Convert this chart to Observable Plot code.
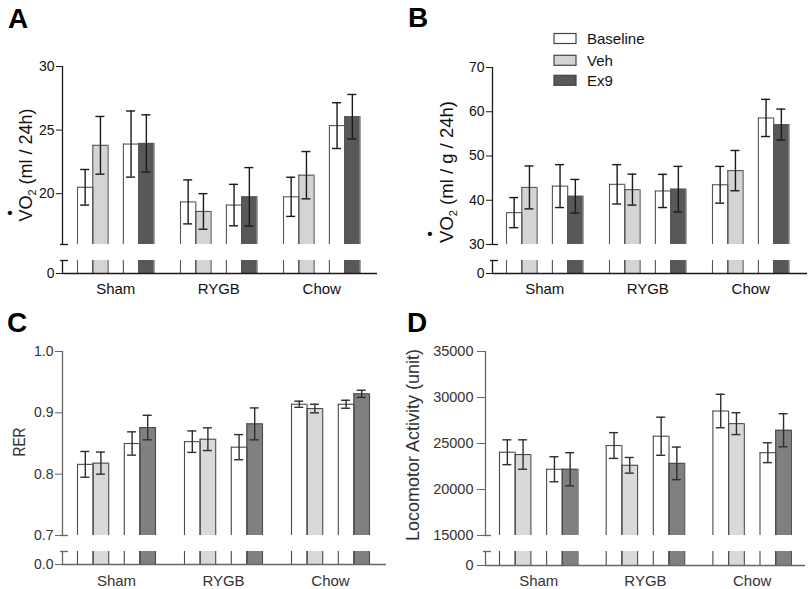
<!DOCTYPE html>
<html><head><meta charset="utf-8">
<script src="https://cdn.jsdelivr.net/npm/d3@7"></script>
<script src="https://cdn.jsdelivr.net/npm/@observablehq/plot@0.6"></script>
<style>
body{margin:0;background:#fff;}
#root{position:relative;width:810px;height:589px;overflow:hidden;background:#fff;}
#root svg{position:absolute;}
</style></head><body><div id="root"></div>
<script>
// ---- data ----
const groups = ["Sham", "RYGB", "Chow"];
const conditions = ["Baseline", "Veh", "Baseline", "Ex9"];
const legendLabels = ["Baseline", "Veh", "Ex9"];

// Panel A: VO2 (ml / 24h)
const vo2Mean = [20.5, 23.8, 23.9, 23.95, 19.35, 18.6, 19.1, 19.75, 19.75, 21.45, 25.35, 26.05];
const vo2Sem  = [1.4, 2.27, 2.6, 2.25, 1.73, 1.4, 1.63, 2.3, 1.54, 1.86, 1.8, 1.75];
const vo2Ticks = [0, 20, 25, 30];

// Panel B: VO2 (ml / g / 24h)
const vo2gMean = [37.2, 42.9, 43.2, 40.9, 43.6, 42.4, 42.1, 42.5, 43.5, 46.7, 58.6, 57.1];
const vo2gSem  = [3.4, 4.85, 4.85, 3.8, 4.45, 3.5, 3.75, 5.15, 4.15, 4.55, 4.2, 3.5];
const vo2gTicks = [0, 30, 40, 50, 60, 70];

// Panel C: RER
const rerMean = [0.816, 0.818, 0.850, 0.876, 0.853, 0.857, 0.844, 0.882, 0.914, 0.907, 0.914, 0.931];
const rerSem  = [0.021, 0.018, 0.019, 0.020, 0.0175, 0.0185, 0.0205, 0.026, 0.005, 0.007, 0.0065, 0.0058];
const rerTicks = [0, 0.7, 0.8, 0.9, 1.0];

// Panel D: Locomotor activity
const locoMean = [24050, 23800, 22200, 22200, 24780, 22630, 25790, 22840, 28530, 27160, 24000, 26440];
const locoSem  = [1350, 1600, 1360, 1800, 1400, 850, 2070, 1770, 1820, 1190, 1080, 1800];
const locoTicks = [0, 15000, 20000, 25000, 30000, 35000];

// ---- drawing ----
const FONT = "Arial, 'Liberation Sans', Helvetica, sans-serif";
const slotOf = [0, 1, 3, 4];
const themeAB = {axis: "#1a1a1a", err: "#1a1a1a", barStroke: "#555555", veh: "#d4d4d4", ex9: "#585858", text: "#111"};
const themeCD = {axis: "#666666", err: "#2e2e2e", barStroke: "#4a4a4a", veh: "#d9d9d9", ex9: "#808080", text: "#333"};
const root = document.getElementById("root");

function fillOf(cond, theme) {
  return cond === "Veh" ? theme.veh : cond === "Ex9" ? theme.ex9 : "#ffffff";
}

function panel(o) {
  const t = o.theme;
  const gs = o.gstep / o.barW;
  const xmin = (o.left - o.bar0) / o.barW;
  const xmax = (o.right - o.bar0) / o.barW;
  const data = o.means.map((m, i) => ({
    g: Math.floor(i / 4), k: i % 4, cond: conditions[i % 4], mean: m, sem: o.sems[i]
  }));
  const pos = d => d.g * gs + slotOf[d.k];
  const end = d => pos(d) + 1;
  const mid = d => pos(d) + 0.5;
  const centers = groups.map((_, g) => g * gs + 2.5);
  const cap = 4.5 / o.barW;
  const stubL = 2 / o.barW, stubR = 6 / o.barW;
  const fill = d => fillOf(d.cond, t);
  const style = {fontFamily: FONT, fontSize: o.tickFont + "px", color: t.axis, background: "transparent", overflow: "visible"};
  const yAxisOpt = {tickFormat: o.fmt, tickSize: o.tickSize, tickPadding: o.tickPad, label: null};
  const edge = {stroke: t.barStroke, strokeWidth: 1.1};

  // upper segment (brk .. top)
  const upperH = o.yBrk + 3;
  const upper = Plot.plot({
    width: o.width, height: upperH,
    marginLeft: o.left, marginRight: o.width - o.right,
    marginTop: o.yTop, marginBottom: upperH - o.yBrk,
    style, color: {type: "identity"},
    x: {domain: [xmin, xmax], axis: null},
    y: {domain: [o.brk, o.top], ticks: o.ticks.filter(v => v >= o.brk), ...yAxisOpt},
    marks: [
      Plot.rect(data, {x1: pos, x2: end, y1: () => o.brk, y2: d => d.mean, fill}),
      Plot.ruleX(data, {x: pos, y1: () => o.brk, y2: d => d.mean, ...edge}),
      Plot.ruleX(data, {x: end, y1: () => o.brk, y2: d => d.mean, ...edge}),
      Plot.ruleY(data, {y: d => d.mean, x1: pos, x2: end, ...edge}),
      Plot.ruleX(data, {x: mid, y1: d => d.mean - d.sem, y2: d => d.mean + d.sem, stroke: t.err, strokeWidth: 1.4}),
      Plot.ruleY(data, {y: d => d.mean + d.sem, x1: d => mid(d) - cap, x2: d => mid(d) + cap, stroke: t.err, strokeWidth: 1.4}),
      Plot.ruleY(data, {y: d => d.mean - d.sem, x1: d => mid(d) - cap, x2: d => mid(d) + cap, stroke: t.err, strokeWidth: 1.4}),
      Plot.ruleX([xmin], {y1: () => o.brk, y2: () => o.top, stroke: t.axis, strokeWidth: 1.3}),
      Plot.ruleY([o.brk], {x1: () => xmin - stubL, x2: () => xmin + stubR, stroke: t.axis, strokeWidth: 1.3})
    ]
  });

  // lower segment (0 .. lowTop) with the category axis
  const lowY = o.yLow - 3;
  const lowerH = o.height - lowY;
  const lower = Plot.plot({
    width: o.width, height: lowerH,
    marginLeft: o.left, marginRight: o.width - o.right,
    marginTop: 3, marginBottom: lowerH - (o.y0 - lowY),
    style, color: {type: "identity"},
    x: {domain: [xmin, xmax], ticks: centers, tickFormat: d => groups[centers.indexOf(d)],
        tickSize: 0, tickPadding: o.labelPad, label: null},
    y: {domain: [0, o.lowTop], ticks: [0], ...yAxisOpt},
    marks: [
      Plot.rect(data, {x1: pos, x2: end, y1: () => 0, y2: () => o.lowTop, fill}),
      Plot.ruleX(data, {x: pos, y1: () => 0, y2: () => o.lowTop, ...edge}),
      Plot.ruleX(data, {x: end, y1: () => 0, y2: () => o.lowTop, ...edge}),
      Plot.ruleX([xmin], {y1: () => 0, y2: () => o.lowTop, stroke: t.axis, strokeWidth: 1.3}),
      Plot.ruleY([o.lowTop], {x1: () => xmin - stubL, x2: () => xmin + stubR, stroke: t.axis, strokeWidth: 1.3}),
      Plot.ruleY([0], {stroke: t.axis, strokeWidth: 1.3})
    ]
  });

  upper.style.left = o.px + "px";
  upper.style.top = o.py + "px";
  lower.style.left = o.px + "px";
  lower.style.top = (o.py + lowY) + "px";
  d3.select(lower).selectAll('[aria-label^="x-axis"] text').style("font-size", "15px").attr("fill", t.text);
  d3.selectAll([upper, lower]).selectAll('[aria-label^="y-axis"] text').attr("fill", t.text);

  const s = d3.select(upper);
  // panel letter
  s.append("text").attr("x", o.letterX).attr("y", o.letterY).attr("text-anchor", "start")
    .attr("font-family", FONT).attr("font-weight", "bold").attr("font-size", 28)
    .attr("fill", "#000").text(o.letter);

  // y title
  const tt = s.append("text")
    .attr("transform", `translate(${o.titleX},${o.titleY}) rotate(-90)`)
    .attr("text-anchor", "middle").attr("font-family", FONT)
    .attr("font-size", o.titleFont).attr("fill", t.text);
  if (o.vo2) {
    tt.append("tspan").text("VO");
    tt.append("tspan").attr("font-size", 11).attr("dy", 4).text("2");
    tt.append("tspan").attr("dy", -4).text(" " + o.titleRest);
    s.append("text").attr("x", o.dotX).attr("y", o.dotY).attr("text-anchor", "middle")
      .attr("font-family", FONT).attr("font-size", 15).attr("font-weight", "bold")
      .attr("fill", t.text).text("\u2022");
  } else {
    tt.text(o.title);
    if (o.titleLen) tt.attr("textLength", o.titleLen).attr("lengthAdjust", "spacingAndGlyphs");
  }
  root.appendChild(lower);
  root.appendChild(upper);
  return s;
}

panel({
  px: 0, py: 0, width: 405, height: 295, theme: themeAB,
  means: vo2Mean, sems: vo2Sem, ticks: vo2Ticks, fmt: d => String(d),
  top: 30, brk: 16, lowTop: 1, yTop: 66, yBrk: 244, yLow: 260, y0: 273,
  left: 62, right: 377, bar0: 77, barW: 15.3, gstep: 103,
  labelPad: 10, tickFont: 14, tickSize: 6, tickPad: 2,
  letter: "A", letterX: 8, letterY: 28,
  vo2: true, titleRest: "(ml / 24h)", titleX: 32, titleY: 165, titleFont: 18,
  dotX: 10, dotY: 218
});

const sB = panel({
  px: 405, py: 0, width: 405, height: 295, theme: themeAB,
  means: vo2gMean, sems: vo2gSem, ticks: vo2gTicks, fmt: d => String(d),
  top: 70, brk: 30, lowTop: 2, yTop: 67, yBrk: 244, yLow: 260, y0: 273,
  left: 87, right: 402, bar0: 101, barW: 15.3, gstep: 103,
  labelPad: 10, tickFont: 14, tickSize: 6, tickPad: 2,
  letter: "B", letterX: 3, letterY: 27,
  vo2: true, titleRest: "(ml / g / 24h)", titleX: 48, titleY: 172, titleFont: 18.5,
  dotX: 25, dotY: 239
});

// legend in panel B
legendLabels.forEach((lab, i) => {
  const y = [33.5, 55.3, 75.3][i];
  sB.append("rect").attr("x", 149).attr("y", y).attr("width", 22).attr("height", 10)
    .attr("fill", fillOf(lab, themeAB)).attr("stroke", "#444").attr("stroke-width", 1.2);
  sB.append("text").attr("x", 182).attr("y", y + 10.5).attr("text-anchor", "start")
    .attr("font-family", FONT).attr("font-size", 15).attr("fill", "#111").text(lab);
});

panel({
  px: 0, py: 295, width: 405, height: 294, theme: themeCD,
  means: rerMean, sems: rerSem, ticks: rerTicks, fmt: d3.format(".1f"),
  top: 1.0, brk: 0.7, lowTop: 0.05, yTop: 56, yBrk: 240, yLow: 256, y0: 269,
  left: 62, right: 386, bar0: 77, barW: 15.6, gstep: 107,
  labelPad: 11, tickFont: 14, tickSize: 7, tickPad: 2,
  letter: "C", letterX: 7, letterY: 37,
  vo2: false, title: "RER", titleLen: 29, titleX: 25, titleY: 147, titleFont: 17
});

panel({
  px: 405, py: 295, width: 405, height: 294, theme: themeCD,
  means: locoMean, sems: locoSem, ticks: locoTicks, fmt: d => String(d),
  top: 35000, brk: 15000, lowTop: 1000, yTop: 56, yBrk: 240, yLow: 256, y0: 270,
  left: 80, right: 400, bar0: 94, barW: 15.7, gstep: 106.7,
  labelPad: 10, tickFont: 14.5, tickSize: 8, tickPad: 4,
  letter: "D", letterX: 2, letterY: 37,
  vo2: false, title: "Locomotor Activity (unit)", titleX: 14, titleY: 150, titleFont: 18
});
</script></body></html>
